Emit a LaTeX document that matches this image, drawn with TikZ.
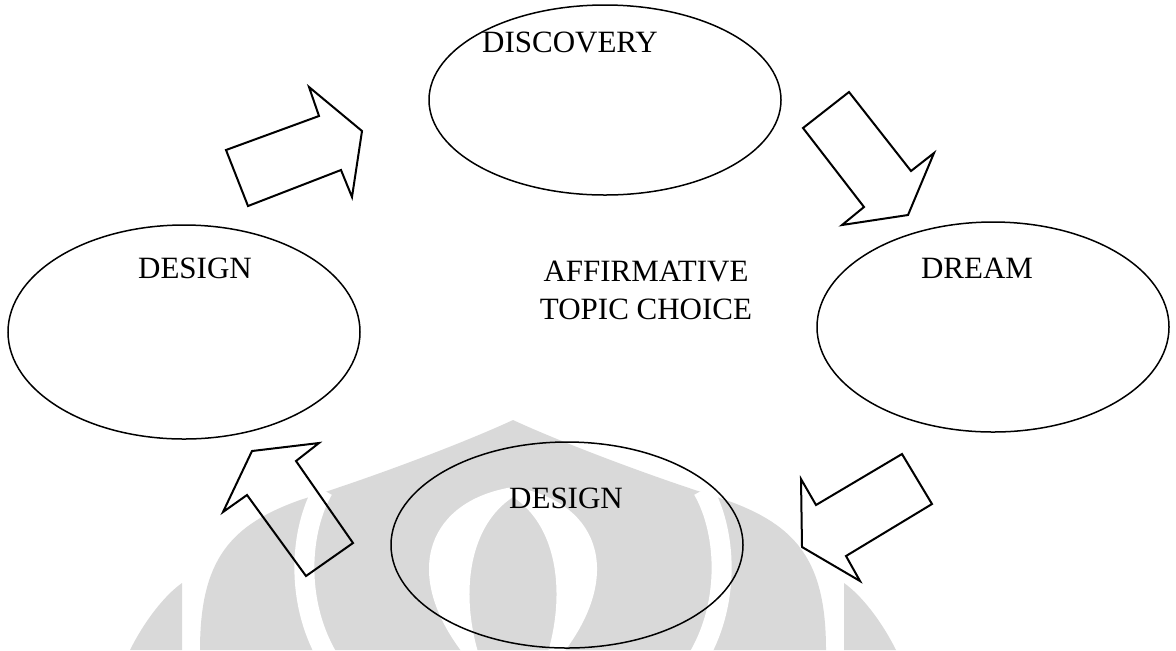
\documentclass[tikz,border=0pt]{standalone}
\usepackage{fontspec}
\setmainfont{Liberation Serif}
\usepackage{xcolor}
\usepackage{tikz}
\usetikzlibrary{shapes.geometric,positioning}
\definecolor{wmgray}{HTML}{D9D9D9}

\begin{document}
\begin{tikzpicture}[x=0.5pt, y=-0.5pt,
    phase/.style={draw=black, line width=0.75pt, ellipse, inner sep=0pt, minimum width=176pt, minimum height=105pt},
    word/.style={font=\fontsize{15.5}{19}\selectfont, align=center, inner sep=1pt},
    blockarrow/.style={draw=black, line width=1pt, line join=miter},
    wm/.style={fill=wmgray}
]
\useasboundingbox (0,0) rectangle (1176,650);

% watermark behind the cycle
\fill[wm] (200,650) .. controls (200,560) and (230,525) .. (300,500) .. controls (380,475) and (470,440) .. (513,420)
          .. controls (556,440) and (646,475) .. (726,500) .. controls (796,525) and (826,560) .. (826,650) -- cycle;
\fill[wm] (130,650) .. controls (145,620) and (165,595) .. (182,583) -- (182,650) -- cycle;
\fill[wm] (896,650) .. controls (881,620) and (861,595) .. (844,583) -- (844,650) -- cycle;
\draw[white, line width=10pt] (323,490) .. controls (300,530) and (295,600) .. (327,656);
\draw[white, line width=10pt] (703,490) .. controls (726,530) and (731,600) .. (699,656);
\fill[white] (513,487) .. controls (430,500) and (400,570) .. (462,652) -- (478,652) .. controls (460,590) and (470,525) .. (513,497) -- cycle;
\fill[white] (513,487) .. controls (596,500) and (626,570) .. (564,652) -- (548,652) .. controls (566,590) and (556,525) .. (513,497) -- cycle;

% the four phases
\node[phase, minimum height=95pt] (discovery) at (605,100) {};
\node[phase, minimum height=107pt] (designL) at (184,332) {};
\node[phase] (dream) at (993,327) {};
\node[phase, minimum height=103pt] (designB) at (567,545) {};

\node[word] (discoveryTxt) at (570,42) {DISCOVERY};
\node[word] (designLTxt) at (195,268) {DESIGN};
\node[word] (dreamTxt) at (977,268) {DREAM};
\node[word] (designBTxt) at (566,498) {DESIGN};
\node[word] (topic) at (646,290) {AFFIRMATIVE\\TOPIC CHOICE};

% block arrows
\draw[blockarrow] (226,150) -- (319,116) -- (309,87) -- (362,131) -- (352,197) -- (341,170) -- (248,206) -- cycle;
\draw[blockarrow] (803,128) -- (849,92) -- (911,171) -- (934,153) -- (908,215) -- (842,225) -- (864,207) -- cycle;
\draw[blockarrow] (902,454) -- (932,504) -- (846,556) -- (860,581) -- (802,547) -- (801,479) -- (816,505) -- cycle;
\draw[blockarrow] (353,543) -- (306,576) -- (247,495) -- (223,512) -- (252,451) -- (319,443) -- (296,461) -- cycle;
\end{tikzpicture}
\end{document}
